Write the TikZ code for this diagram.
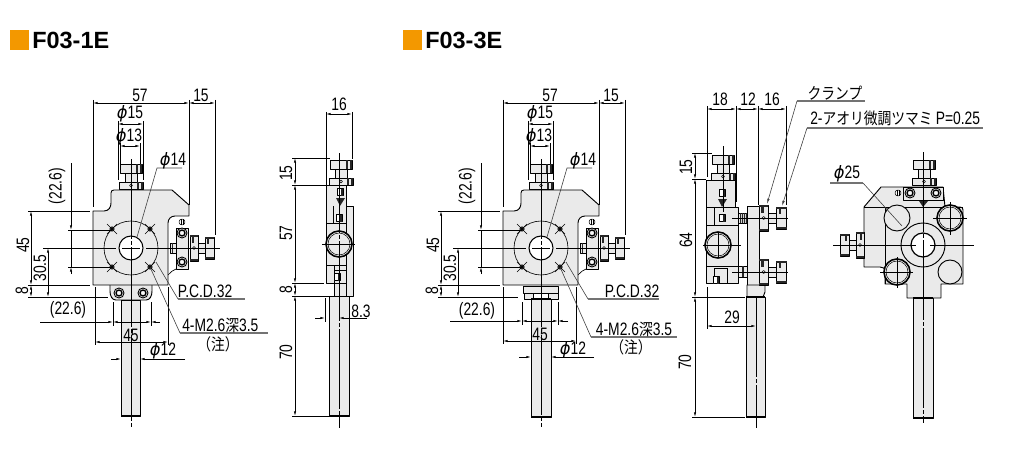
\documentclass[tikz,border=0pt]{standalone}
\usepackage{fontspec}
\usetikzlibrary{arrows.meta}
\newfontfamily\dimfont[FakeStretch=.77]{Liberation Sans}
\newfontfamily\headfont{Liberation Sans}
\newfontfamily\cjkfont[Scale=.9,FakeStretch=.85]{Noto Sans CJK JP}
\newfontfamily\phifont[Scale=.95,FakeStretch=.95]{DejaVu Sans}
\newcommand{\dia}{{\phifont\itshape ϕ}}
\definecolor{partgrey}{HTML}{EAEAEA}
\definecolor{headorange}{HTML}{F39800}
\begin{document}
\begin{tikzpicture}[x=0.75pt,y=-0.75pt,line join=round,
    part/.style={draw,fill=partgrey,line width=.7pt},
    dark/.style={fill=black!85},
    dim/.style={line width=.45pt,{Latex[length=3.4pt,width=1.6pt]}-{Latex[length=3.4pt,width=1.6pt]}},
    dimto/.style={line width=.45pt,-{Latex[length=3.4pt,width=1.6pt]}},
    ext/.style={line width=.45pt},
    leader/.style={line width=.45pt,draw=black!75},
    rule/.style={line width=.8pt,draw=black!55},
    centre/.style={line width=.45pt,dash pattern=on 60pt off 1.5pt on 3pt off 1.5pt},
    lab/.style={font=\fontsize{13.5}{15}\selectfont\dimfont,inner sep=0pt},
    vlab/.style={lab,rotate=90},
    head/.style={font=\fontsize{17.6}{20}\selectfont\headfont\bfseries,inner sep=0pt,anchor=west},
    pics/knob/.style={code={
      \draw[part] (-6,-19) rectangle (6,-6);
      \draw[part] (-11,-25) rectangle (11,-16);
      \fill[dark] (5,-25) rectangle (7,-16);
      \fill[dark] (9,-25) rectangle (11,-16);
      \draw[part] (-12,-7) rectangle (12,0);
      \fill[dark] (6,-7) rectangle (8,0);
      \fill[dark] (10,-7) rectangle (12,0);
      \draw[line width=.4pt] (0,-3.5) circle[radius=1.5];
    }},
    pics/sideknob/.style={code={
      \draw[part] (8,-5) rectangle (16,5);
      \draw[part] (0,-13) rectangle (8,13);
      \fill[dark] (0,-13) rectangle (8,-11);
      \fill[dark] (2,-11) rectangle (4,-5);
      \fill[dark] (0,11) rectangle (8,13);
      \draw[line width=.4pt] (4,0) circle[radius=1.5];
      \draw[part] (15,-11) rectangle (24,11);
      \fill[dark] (15,-11) rectangle (24,-9);
      \fill[dark] (17,-9) rectangle (19,-4);
      \fill[dark] (15,9) rectangle (24,11);
    }},
    pics/screw/.style={code={
      \draw[fill=white,line width=.7pt] (0,0) circle[radius=5];
      \draw[fill=partgrey,line width=1pt] (0,0) circle[radius=3];
      \fill[white] (0,0) circle[radius=1.2];
    }},
    pics/tinyscrew/.style={code={
      \draw[fill=white,line width=.4pt] (0,0) circle[radius=3];
      \draw[line width=.4pt] (-1,-2.6) -- (-1,2.6) (1,-2.6) -- (1,2.6);
    }},
    pics/setscrew/.style={code={
      \draw[fill=white,line width=.5pt] (-3,-3.5) rectangle (3,3.5);
      \fill[dark] (1,-3.5) rectangle (3,3.5);
    }},
    pics/bolt/.style={code={
      \fill[dark] (0,0) circle[radius=2.6];
      \draw[line width=.4pt] (-5,-5) -- (5,5) (-5,5) -- (5,-5);
    }},
    pics/ringed/.style={code={
      \draw[fill=white,line width=1.2pt] (0,0) circle[radius=13];
      \draw[fill=partgrey,line width=.4pt] (0,0) circle[radius=11];
    }},
    pics/frontview/.style={code={
      \draw[part] (-38,-37) -- (-27,-37) .. controls (-22,-37) and (-20,-41) .. (-20,-45)
        -- (-20,-55) .. controls (-20,-57) and (-19,-58) .. (-17,-58) -- (41,-58) -- (58,-43) -- (58,-32)
        -- (44,-32) .. controls (40,-32) and (37,-29) .. (37,-25) -- (37,37) -- (-38,37) -- cycle;
      \draw[line width=.5pt] (37,27) .. controls (40,24) and (42,22) .. (45,21);
      \pic at (0,-59) {knob};
      \draw[line width=.45pt] (0,0) circle[radius=27];
      \draw[fill=white,line width=.8pt] (0,0) circle[radius=12];
      \pic at (-19,-19) {bolt};
      \pic at (19,-19) {bolt};
      \pic at (-19,19) {bolt};
      \pic at (19,19) {bolt};
      \draw[part] (39,-5) rectangle (45,5);
      \fill[dark] (41,-5) rectangle (42,5);
      \draw[part] (45,-20) rectangle (57,21);
      \pic at (51,-26) {tinyscrew};
      \pic at (51,-15) {screw};
      \pic at (51,14) {screw};
      \pic at (59,0) {sideknob};
      \draw[centre] (0,-89) -- (0,179);
      \draw[ext] (-88,0) -- (-15,0) (-9,0) -- (9,0) (15,0) -- (89,0);
    }},
    pics/frontdims/.style={code={
      \draw[dim] (-38,-145) -- (58,-145);
      \draw[ext] (-38,-148) -- (-38,-41) (58,-148) -- (58,-43);
      \draw[dim] (58,-145) -- (84,-145);
      \draw[ext] (84,-148) -- (84,-13);
      \draw[dim] (-13,-124) -- (12,-124);
      \draw[ext] (-13,-127) -- (-13,-68) (12,-127) -- (12,-68);
      \draw[dim] (-11,-102) -- (9,-102);
      \draw[ext] (-11,-105) -- (-11,-84) (9,-105) -- (9,-84);
      \draw[leader] (51,-80) -- (26,-80) -- (6,-11);
      \draw[dimto] (-60,-85) -- (-60,-18);
      \draw[dimto] (-60,26) -- (-60,19);
      \draw[ext] (-60,-18) -- (-60,19);
      \draw[ext] (-63,-18) -- (-19,-18) (-63,19) -- (-19,19);
      \draw[dim] (-100,-37) -- (-100,37);
      \draw[dim] (-100,37) -- (-100,49);
      \draw[ext] (-103,-37) -- (-41,-37) (-103,37) -- (-41,37);
      \draw[dim] (-83,0) -- (-83,49);
      \node[lab] (w57) at (9,-153) {57};
      \node[lab] (w15) at (70,-153) {15};
      \node[lab] (phi15) at (-1,-134) {\dia 15};
      \node[lab] (phi13) at (-2,-111) {\dia 13};
      \node[lab] (phi14) at (42,-87) {\dia 14};
      \node[vlab] (h226) at (-74,-62) {(22.6)};
      \node[vlab] (h45) at (-108,-3) {45};
      \node[vlab] (h305) at (-91,20) {30.5};
      \node[vlab] (h8) at (-109,43) {8};
    }}]
    \useasboundingbox (0,0) rectangle (1011,460);
    \fill[headorange] (10,30) rectangle (29,50);
    \node[head] (title1) at (32,40) {F03-1E};
    \fill[headorange] (403,30) rectangle (422,50);
    \node[head] (title3) at (425,40) {F03-3E};

    \draw[part] (110,285) -- (110,291) .. controls (110,296) and (112,300) .. (116,300) -- (146,300) .. controls (150,300) and (152,296) .. (152,291) -- (152,285);
    \pic at (119,293) {screw};
    \pic at (143,293) {screw};
    \draw[part] (121,300) rectangle (140,416);
    \draw[line width=1pt] (121,416) -- (140,416);
    \pic at (131,248) {frontview};
    \pic (fa) at (131,248) {frontdims};
    \draw[ext] (28,297) -- (108,297);
    \draw[dim] (113,322) -- (151,322);
    \draw[dimto] (40,322) -- (113,322);
    \draw[dimto] (160,322) -- (151,322);
    \draw[ext] (113,302) -- (113,326) (151,302) -- (151,326);
    \node[lab] (a226) at (68,310) {(22.6)};
    \draw[dim] (95,342) -- (168,342);
    \draw[ext] (95,287) -- (95,345) (168,287) -- (168,345);
    \node[lab] (a45) at (131,335) {45};
    \draw[dimto] (111,359) -- (121,359);
    \draw[dimto] (185,359) -- (140,359);
    \node[lab] (a12) at (163,351) {\dia 12};
    \draw[leader] (156,262) -- (178,299);
    \draw[rule] (178,299) -- (245,299);
    \node[lab] (apcd) at (205,291) {P.C.D.32};
    \draw[leader] (150,267) -- (180,333);
    \draw[rule] (180,333) -- (268,333);
    \node[lab,anchor=west] (am26) at (182,325) {4-M2.6{\cjkfont 深}3.5};
    \node[lab] (anote) at (218,344) {\cjkfont（注）};

    \pic at (341,185) {knob};
    \draw[part] (326,185) rectangle (346,283);
    \draw[part] (346,206) rectangle (353,296);
    \draw[part] (334,283) rectangle (346,296);
    \draw[part] (329,296) rectangle (349,416);
    \draw[line width=1pt] (329,416) -- (349,416);
    \draw[ext] (326,223) -- (346,223) (326,265) -- (346,265) (333,206) -- (333,223) (334,265) -- (334,283) (334,270) -- (346,270);
    \fill[dark] (336,198) -- (345,198) -- (340,206) -- cycle;
    \pic at (340,192) {setscrew};
    \pic at (339,218) {setscrew};
    \pic at (337,277) {setscrew};
    \draw[fill=white,line width=1.2pt] (339,244) circle[radius=13];
    \draw[fill=partgrey,line width=.4pt] (339,244) circle[radius=11];
    \draw[ext] (322,244) -- (355,244);
    \draw[centre] (339,153) -- (339,428);
    \draw[dim] (326,114) -- (352,114);
    \draw[ext] (326,112) -- (326,185) (352,112) -- (352,159);
    \node[lab] (b16) at (339,104) {16};
    \draw[dim] (295,158) -- (295,185);
    \draw[dim] (295,185) -- (295,283);
    \draw[dim] (295,283) -- (295,296);
    \draw[dim] (295,296) -- (295,416);
    \draw[ext] (292,158) -- (330,158) (292,185) -- (326,185) (292,283) -- (324,283) (292,296) -- (330,296) (292,416) -- (330,416);
    \node[vlab] (b15) at (286,173) {15};
    \node[vlab] (b57) at (286,233) {57};
    \node[vlab] (b8) at (286,290) {8};
    \node[vlab] (b70) at (286,352) {70};
    \draw[dimto] (315,318) -- (325,318);
    \draw[dimto] (367,318) -- (339,318);
    \draw[ext] (325,298) -- (325,322);
    \node[lab] (b83) at (361,311) {8.3};

    \draw[part] (523,286) rectangle (558,293);
    \draw[part] (524,293) rectangle (533,299);
    \draw[part] (548,293) rectangle (558,299);
    \draw[part] (531,299) rectangle (551,417);
    \draw[line width=1pt] (531,417) -- (551,417) (531,299) -- (551,299);
    \pic at (541,248) {frontview};
    \pic (fb) at (541,248) {frontdims};
    \draw[ext] (438,297) -- (518,297);
    \draw[dim] (522,321) -- (558,321);
    \draw[dimto] (450,321) -- (522,321);
    \draw[dimto] (568,321) -- (558,321);
    \draw[ext] (522,302) -- (522,325) (558,302) -- (558,325);
    \node[lab] (c226) at (477,311) {(22.6)};
    \draw[dim] (503,341) -- (576,341);
    \draw[ext] (503,287) -- (503,344) (576,287) -- (576,344);
    \node[lab] (c45) at (540,334) {45};
    \draw[dimto] (519,357) -- (531,357);
    \draw[dimto] (594,357) -- (551,357);
    \node[lab] (c12) at (573,350) {\dia 12};
    \draw[leader] (566,262) -- (588,299);
    \draw[rule] (588,299) -- (659,299);
    \node[lab] (cpcd) at (632,291) {P.C.D.32};
    \draw[leader] (560,267) -- (591,337);
    \draw[rule] (591,337) -- (677,337);
    \node[lab] (cm26) at (634,329) {4-M2.6{\cjkfont 深}3.5};
    \node[lab] (cnote) at (631,347) {\cjkfont（注）};

    \pic at (723,180) {knob};
    \draw[part] (706,180) rectangle (735,225);
    \draw[part] (706,207) rectangle (738,283);
    \draw[ext] (714,207) -- (714,225) (706,225) -- (738,225) (706,266) -- (738,266) (714,268) -- (727,268) (714,268) -- (714,283) (727,268) -- (727,283);
    \fill[dark] (718,199) -- (727,199) -- (722,207) -- cycle;
    \pic at (722,193) {setscrew};
    \pic at (722,218) {setscrew};
    \pic at (716,280) {setscrew};
    \draw[fill=white,line width=1.2pt] (718,245) circle[radius=13];
    \draw[fill=partgrey,line width=.4pt] (718,245) circle[radius=11];
    \draw[ext] (703,245) -- (741,245) (718,232) -- (718,258);
    \draw[part] (738,213) rectangle (748,223);
    \fill[dark] (740,213) rectangle (741,223) (742,213) rectangle (743,223) (744,213) rectangle (745,223) (746,213) rectangle (747,223);
    \draw[part] (738,266) rectangle (748,277);
    \fill[dark] (742,266) rectangle (744,277);
    \draw[part] (747,206) rectangle (759,285);
    \draw[part] (747,285) -- (765,285) -- (765,292) -- (763,297) -- (747,297) -- cycle;
    \draw[part] (746,297) rectangle (765,417);
    \draw[line width=1pt] (746,417) -- (765,417) (746,297) -- (765,297);
    \pic[xscale=1.15] at (759,218) {sideknob};
    \pic[xscale=1.15] at (759,272) {sideknob};
    \draw[ext] (732,218) -- (788,218) (732,272) -- (788,272);
    \draw[centre] (723,146) -- (723,212);
    \draw[centre] (756,297) -- (756,428);
    \draw[dim] (707,109) -- (736,109);
    \draw[dim] (736,109) -- (758,109);
    \draw[dim] (758,109) -- (786,109);
    \draw[ext] (707,106) -- (707,177) (736,106) -- (736,202) (758,106) -- (758,205) (786,106) -- (786,205);
    \node[lab] (d18) at (720,99) {18};
    \node[lab] (d12) at (748,99) {12};
    \node[lab] (d16) at (772,99) {16};
    \draw[dim] (695,153) -- (695,179);
    \draw[dim] (695,179) -- (695,297);
    \draw[dim] (695,297) -- (695,417);
    \draw[ext] (692,153) -- (712,153) (692,179) -- (706,179) (692,297) -- (745,297) (692,417) -- (745,417);
    \node[vlab] (d15) at (686,167) {15};
    \node[vlab] (d64) at (686,240) {64};
    \node[vlab] (d70) at (685,362) {70};
    \draw[dim] (707,326) -- (756,326);
    \draw[ext] (707,287) -- (707,329);
    \node[lab] (d29) at (732,317) {29};
    \draw[rule] (797,101) -- (865,101);
    \draw[leader,-{Latex[length=4pt,width=1.8pt]}] (797,101) -- (767,204);
    \node[lab] (clamp) at (835,93) {\cjkfont クランプ};
    \draw[rule] (807,128) -- (983,128);
    \draw[leader,-{Latex[length=4pt,width=1.8pt]}] (807,128) -- (782,206);
    \node[lab,anchor=west] (tilt) at (810,118) {2-{\cjkfont アオリ微調ツマミ}\,P=0.25};

    \draw[part] (864,207) -- (881,187) -- (943,187) -- (945,207) -- (960,207) .. controls (962,207) and (963,208) .. (963,210)
      -- (963,284) -- (941,284) -- (941,298) -- (907,298) -- (907,284) -- (885,284) -- (885,272) .. controls (885,268) and (883,267) .. (880,267) -- (864,267) -- cycle;
    \draw[part] (913,298) rectangle (933,418);
    \draw[line width=1pt] (913,418) -- (933,418) (913,298) -- (933,298);
    \draw[ext] (864,207) -- (963,207) (885,207) -- (885,284);
    \draw[part] (903,187) -- (943,187) -- (943,200) -- (903,200) -- cycle;
    \pic at (898,193) {tinyscrew};
    \pic at (910,193) {screw};
    \pic at (936,193) {screw};
    \pic at (924,185) {knob};
    \fill[dark] (919,201) -- (928,201) -- (923,207) -- cycle;
    \draw[part] (897,218) circle[radius=13];
    \draw[part] (950,272) circle[radius=12];
    \pic at (950,218) {ringed};
    \pic at (897,272) {ringed};
    \draw[ext] (933,218) -- (967,218) (950,202) -- (950,235) (880,272) -- (913,272) (897,257) -- (897,288);
    \draw[part] (923,245) circle[radius=22];
    \draw[fill=white,line width=.9pt] (923,245) circle[radius=12];
    \pic[xscale=-1] at (864,245) {sideknob};
    \draw[ext] (833,245) -- (916,245) (930,245) -- (974,245);
    \draw[centre] (923,152) -- (923,423);
    \draw[rule] (830,183) -- (863,183);
    \draw[leader] (863,183) -- (902,226);
    \node[lab] (e25) at (847,174) {\dia 25};
\end{tikzpicture}
\end{document}
